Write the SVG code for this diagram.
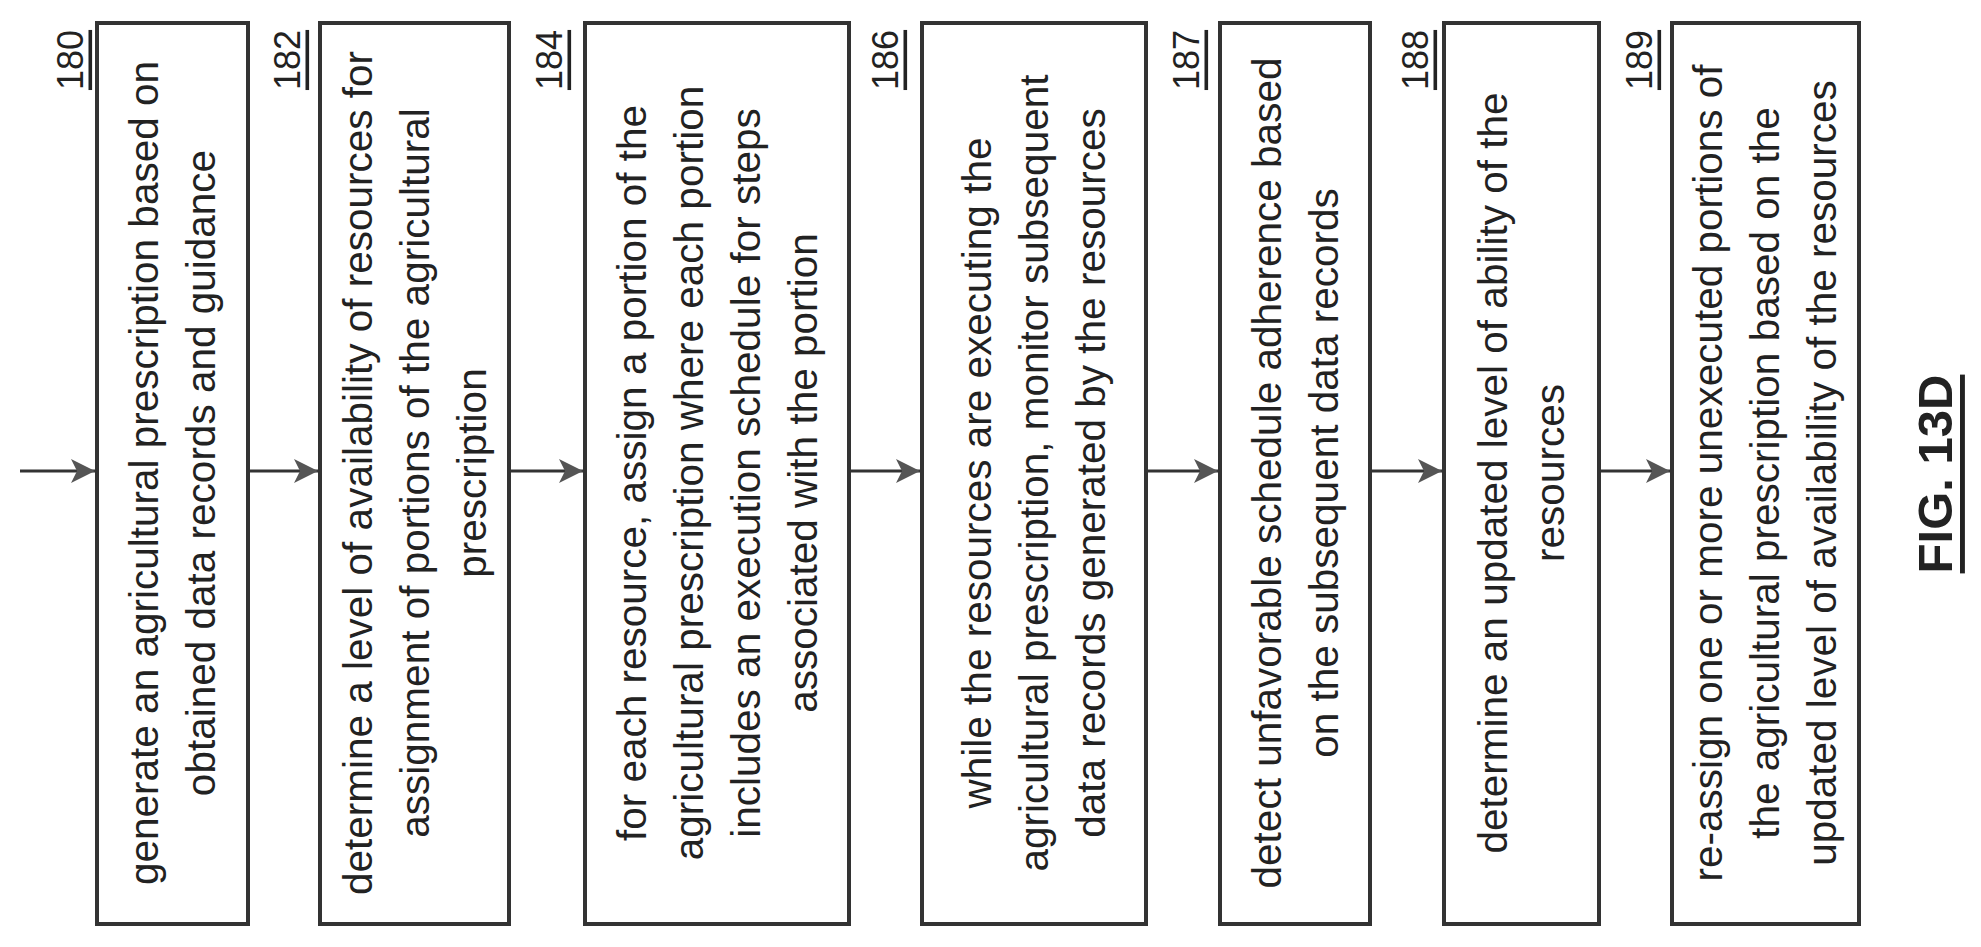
<svg xmlns="http://www.w3.org/2000/svg" width="1981" height="947" viewBox="0 0 1981 947">
<style>
.box{fill:#fff;stroke:#333;stroke-width:4}
.t{font-family:"Liberation Sans",Arial,sans-serif;font-size:40.5px;fill:#222;text-anchor:middle;dominant-baseline:central}
.lb{font-family:"Liberation Sans",Arial,sans-serif;font-size:36px;fill:#222;text-anchor:middle;dominant-baseline:central;text-decoration:underline}
.fig{font-family:"Liberation Sans",Arial,sans-serif;font-size:49px;font-weight:bold;fill:#222;text-anchor:middle;dominant-baseline:central;text-decoration:underline}
.c{stroke:#333;stroke-width:3;fill:none}
</style>
<defs>
<marker id="ah" markerWidth="8" markerHeight="8" refX="8" refY="4" orient="auto" markerUnits="strokeWidth">
<path d="M0,0 L8,4 L0,8 L2,4 Z" fill="#555"/>
</marker>
</defs>
<g id="connectors">
<line class="c" x1="20" y1="471" x2="95" y2="471" marker-end="url(#ah)"/>
<line class="c" x1="248" y1="471" x2="318" y2="471" marker-end="url(#ah)"/>
<line class="c" x1="509" y1="471" x2="583" y2="471" marker-end="url(#ah)"/>
<line class="c" x1="849" y1="471" x2="920" y2="471" marker-end="url(#ah)"/>
<line class="c" x1="1146" y1="471" x2="1218" y2="471" marker-end="url(#ah)"/>
<line class="c" x1="1370" y1="471" x2="1442" y2="471" marker-end="url(#ah)"/>
<line class="c" x1="1599" y1="471" x2="1670" y2="471" marker-end="url(#ah)"/>
</g>
<g id="n180">
<rect class="box" x="97" y="23" width="151" height="901"/>
<text class="lb" transform="translate(70,60) rotate(-90)">180</text>
<text class="t" transform="translate(172,473) rotate(-90)"><tspan x="0" y="-28.5">generate an agricultural prescription based on</tspan><tspan x="0" y="28.5">obtained data records and guidance</tspan></text>
</g>
<g id="n182">
<rect class="box" x="320" y="23" width="189" height="901"/>
<text class="lb" transform="translate(287,60) rotate(-90)">182</text>
<text class="t" transform="translate(415,473) rotate(-90)"><tspan x="0" y="-57">determine a level of availability of resources for</tspan><tspan x="0" y="0">assignment of portions of the agricultural</tspan><tspan x="0" y="57">prescription</tspan></text>
</g>
<g id="n184">
<rect class="box" x="585" y="23" width="264" height="901"/>
<text class="lb" transform="translate(549,60) rotate(-90)">184</text>
<text class="t" transform="translate(717,473) rotate(-90)"><tspan x="0" y="-85.5">for each resource,  assign a portion of the</tspan><tspan x="0" y="-28.5">agricultural prescription where each portion</tspan><tspan x="0" y="28.5">includes an execution schedule for steps</tspan><tspan x="0" y="85.5">associated with the portion</tspan></text>
</g>
<g id="n186">
<rect class="box" x="922" y="23" width="224" height="901"/>
<text class="lb" transform="translate(885,60) rotate(-90)">186</text>
<text class="t" transform="translate(1034,473) rotate(-90)"><tspan x="0" y="-57">while the resources are executing the</tspan><tspan x="0" y="0">agricultural prescription, monitor subsequent</tspan><tspan x="0" y="57">data records generated by the resources</tspan></text>
</g>
<g id="n187">
<rect class="box" x="1220" y="23" width="150" height="901"/>
<text class="lb" transform="translate(1186,60) rotate(-90)">187</text>
<text class="t" transform="translate(1295,473) rotate(-90)"><tspan x="0" y="-28.5">detect unfavorable schedule adherence based</tspan><tspan x="0" y="28.5">on the subsequent data records</tspan></text>
</g>
<g id="n188">
<rect class="box" x="1444" y="23" width="155" height="901"/>
<text class="lb" transform="translate(1415,60) rotate(-90)">188</text>
<text class="t" transform="translate(1521,473) rotate(-90)"><tspan x="0" y="-28.5">determine an updated level of ability of the</tspan><tspan x="0" y="28.5">resources</tspan></text>
</g>
<g id="n189">
<rect class="box" x="1672" y="23" width="187" height="901"/>
<text class="lb" transform="translate(1639,60) rotate(-90)">189</text>
<text class="t" transform="translate(1765,473) rotate(-90)"><tspan x="0" y="-57">re-assign one or more unexecuted portions of</tspan><tspan x="0" y="0">the agricultural prescription based on the</tspan><tspan x="0" y="57">updated level of availability of the resources</tspan></text>
</g>
<text class="fig" transform="translate(1935,474) rotate(-90)">FIG. 13D</text>
</svg>
